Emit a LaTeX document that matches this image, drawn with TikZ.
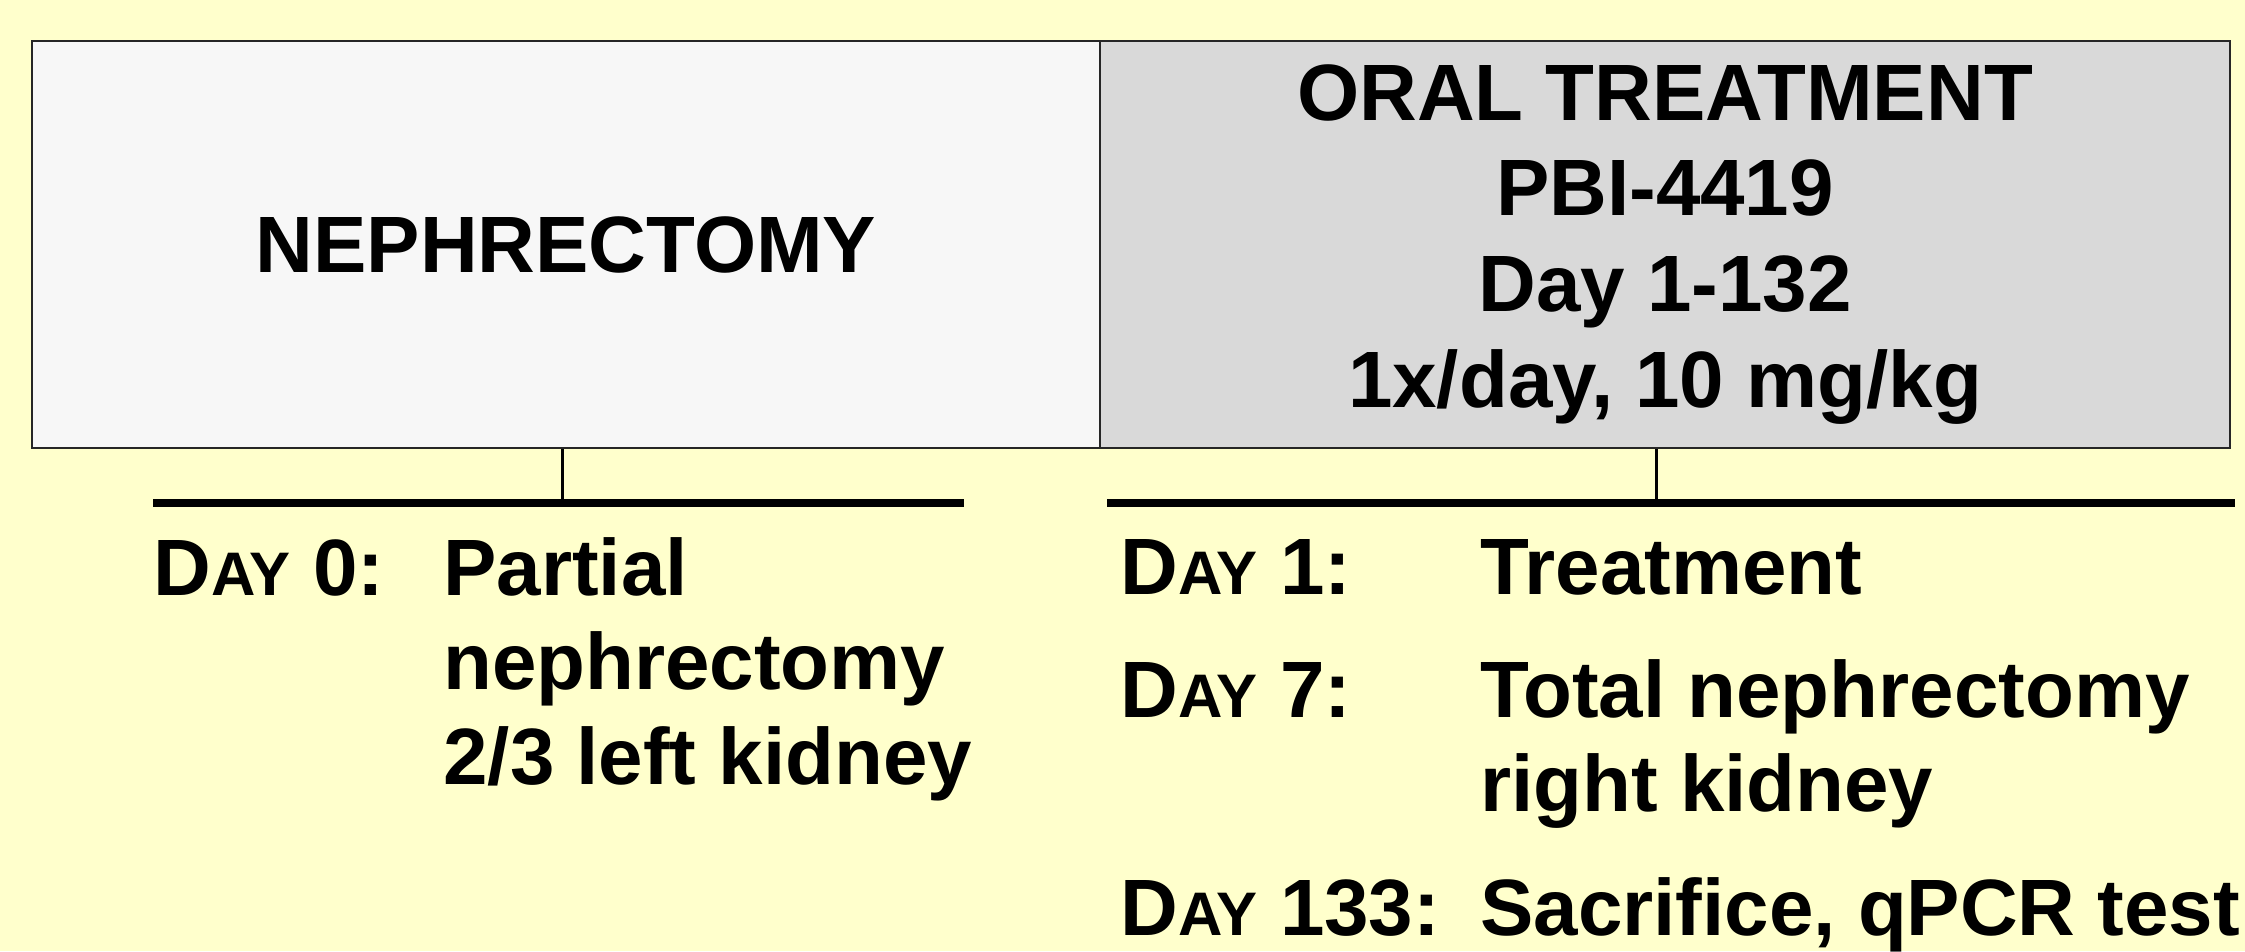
\documentclass[tikz,border=0pt]{standalone}
\usepackage{fontspec}
\setmainfont{Liberation Sans}
\definecolor{slidebg}{HTML}{FFFFCC}
\definecolor{boxlight}{HTML}{F7F7F7}
\definecolor{boxdark}{HTML}{D9D9D9}
\newcommand{\daysc}{D{\fontsize{35}{35}\selectfont AY}}
\newcommand{\toplines}[1]{\begin{tabular}[t]{@{}l@{}}#1\end{tabular}}
\tikzset{
  phase/.style={draw=black!85,line width=1.3pt,minimum height=8.14cm,inner sep=0pt,align=center,
    font=\bfseries\fontsize{45.5}{54.6}\selectfont},
  daytext/.style={anchor=base west,inner sep=0pt,font=\bfseries\fontsize{45.5}{54}\selectfont},
  timeline/.style={line width=4pt},
  stem/.style={line width=1.7pt},
}
\begin{document}
\begin{tikzpicture}[x=0.02cm,y=-0.02cm]
  \useasboundingbox (0,0) rectangle (2245,951);
  \fill[slidebg] (0,0) rectangle (2245,951);
  % phase boxes
  \node[phase,fill=boxlight,minimum width=21.36cm] (nephbox) at (566,244.5) {NEPHRECTOMY};
  \node[phase,fill=boxdark,minimum width=22.6cm] (treatbox) at (1665,244.5)
    {ORAL TREATMENT\\PBI-4419\\Day 1-132\\1x/day, 10 mg/kg};
  % timelines
  \coordinate (nephL) at (153,503);
  \coordinate (nephR) at (964,503);
  \coordinate (treatL) at (1107,503);
  \coordinate (treatR) at (2235,503);
  \coordinate (nephstem) at (562,503);
  \coordinate (treatstem) at (1656,503);
  \draw[timeline] (nephL) -- (nephR);
  \draw[timeline] (treatL) -- (treatR);
  \draw[stem] (nephstem |- nephbox.south) -- (nephstem);
  \draw[stem] (treatstem |- treatbox.south) -- (treatstem);
  % day entries
  \node[daytext] (dlab0) at (153,595) {\daysc{} 0:};
  \node[daytext] (dtxt0) at (443,595) {\toplines{Partial\\nephrectomy\\2/3 left kidney}};
  \foreach \d/\y/\txt in {1/594/Treatment,7/717/{Total nephrectomy\\right kidney},133/935/{Sacrifice, qPCR test}}{
    \node[daytext] (dlab\d) at (1120,\y) {\daysc{} \d:};
    \node[daytext] (dtxt\d) at (1480,\y) {\toplines{\txt}};
  }
\end{tikzpicture}
\end{document}
